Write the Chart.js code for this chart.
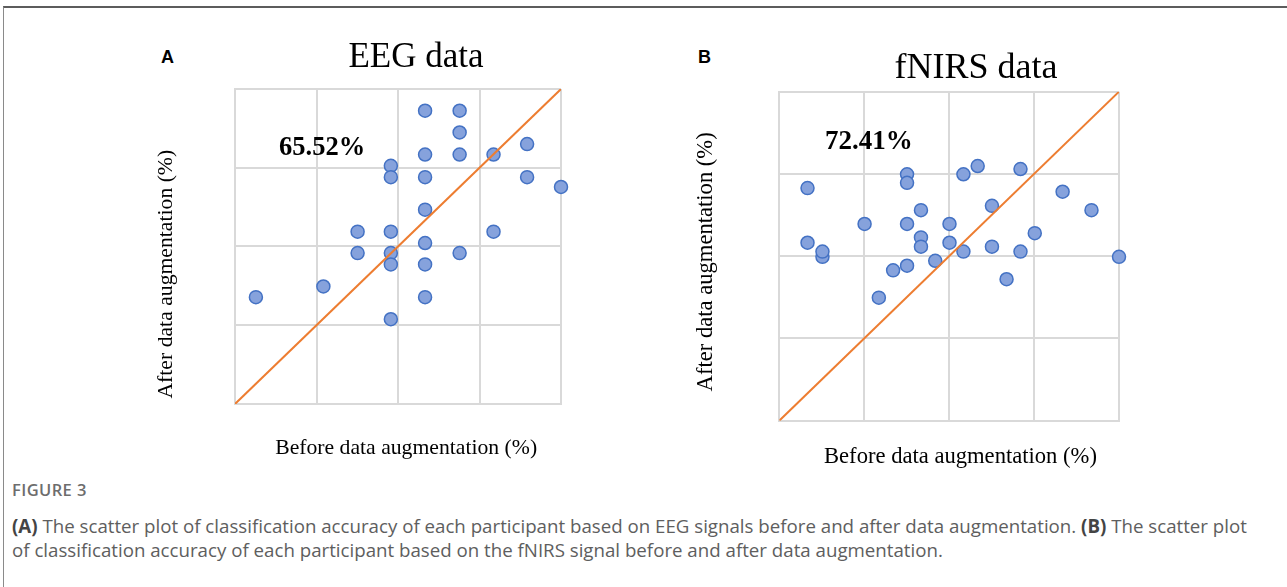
<!DOCTYPE html>
<html lang="en">
<head>
<meta charset="UTF-8">
<title>Figure 3 - accuracy before / after data augmentation</title>
<script src="https://cdn.jsdelivr.net/npm/chart.js@4.4.1/dist/chart.umd.min.js"></script>
<style>
  html, body { margin: 0; padding: 0; background: #fff; }
  body { width: 1287px; height: 587px; position: relative; overflow: hidden; }
  .frame { position: absolute; left: 3px; top: 6px; right: 0; bottom: -2px;
           border-top: 2px solid #5c5c5c; border-left: 1px solid #8a8a8a; }
  canvas { position: absolute; }
  .tag { position: absolute; font: bold 18px 'Liberation Sans', Arial, sans-serif;
         line-height: 1; color: #000; }
  .fig-no { position: absolute; left: 12px; top: 482px; font: 600 16.5px 'Open Sans', sans-serif;
            line-height: 1; color: #6d6d6d; letter-spacing: 0.4px; }
  .caption { position: absolute; left: 12px; top: 514px; font: 18.7px 'Open Sans', sans-serif;
             line-height: 24px; color: #5e5e5e; white-space: nowrap; }
  .caption b { color: #444; font-weight: 700; }
</style>
</head>
<body>
<div class="frame"></div>

<div class="tag" style="left:161px; top:48px">A</div>
<div class="tag" style="left:698px; top:48px">B</div>

<canvas id="eegChart" width="552" height="449" style="left:140px; top:20px"></canvas>
<canvas id="nirsChart" width="572" height="458" style="left:690px; top:20px"></canvas>

<div class="fig-no">FIGURE 3</div>
<div class="caption"><b>(A)</b> The scatter plot of classification accuracy of each participant based on EEG signals before and after data augmentation. <b>(B)</b> The scatter plot<br>of classification accuracy of each participant based on the fNIRS signal before and after data augmentation.</div>

<script>
// accuracy (%) per participant
const eegBefore = [6.4, 27.1, 37.6, 37.6, 47.8, 47.8, 47.8, 47.8, 47.8, 47.8, 58.3, 58.3, 58.3,
                   58.3, 58.3, 58.3, 58.3, 68.9, 68.9, 68.9, 68.9, 79.3, 79.3, 89.6, 89.6, 100];
const eegAfter  = [33.9, 37.3, 54.7, 47.9, 75.6, 72.0, 54.7, 47.9, 44.3, 26.9, 93.1, 79.2, 72.0,
                   61.7, 51.1, 44.3, 33.9, 93.1, 86.2, 79.2, 47.9, 79.2, 54.7, 82.5, 72.0, 68.9];

const nirsBefore = [8.3, 8.3, 12.7, 12.7, 25.1, 29.3, 33.5, 37.6, 37.6, 37.6, 37.6, 41.7, 41.7,
                    41.7, 45.9, 50.1, 50.1, 54.2, 54.2, 58.4, 62.6, 62.6, 66.9, 71.0, 71.0, 75.2,
                    83.4, 91.9, 100];
const nirsAfter  = [70.7, 54.1, 49.8, 51.4, 59.8, 37.4, 45.7, 74.9, 72.3, 59.8, 47.1, 64.0, 55.7,
                    52.9, 48.6, 59.8, 54.1, 74.9, 51.4, 77.4, 65.3, 52.9, 43.0, 76.5, 51.4, 57.0,
                    69.6, 64.0, 49.8];

const axisRange = [0, 100];
const gridStep = 25;
const eegImproved = '65.52%';
const nirsImproved = '72.41%';

const SERIF = "'Liberation Serif', 'Times New Roman', serif";
const GRID = '#d9d9d9';

// puts the "xx.xx%" label inside the plot, at a data position
const accuracyLabel = {
  id: 'accuracyLabel',
  afterDatasetsDraw(chart, args, opts) {
    const { ctx, scales: { x, y } } = chart;
    ctx.save();
    ctx.font = opts.font;
    ctx.fillStyle = '#000';
    ctx.textAlign = 'left';
    ctx.textBaseline = 'middle';
    ctx.fillText(opts.text, x.getPixelForValue(opts.x), y.getPixelForValue(opts.y));
    ctx.restore();
  }
};

function makePanel(id, p) {
  const points = p.before.map((b, i) => ({ x: b, y: p.after[i] }));
  return new Chart(document.getElementById(id), {
    data: {
      datasets: [
        {
          type: 'line',
          data: [{ x: axisRange[0], y: axisRange[0] }, { x: axisRange[1], y: axisRange[1] }],
          borderColor: '#ed7d31',
          borderWidth: 2,
          pointRadius: 0,
          order: 0
        },
        {
          type: 'scatter',
          data: points,
          backgroundColor: '#86a2dc',
          borderColor: '#4472c4',
          borderWidth: 1.5,
          pointRadius: p.radius,
          clip: false,
          order: 1
        }
      ]
    },
    options: {
      responsive: false,
      animation: false,
      events: [],
      layout: { padding: 0 },
      plugins: {
        legend: { display: false },
        tooltip: { enabled: false },
        title: {
          display: true,
          text: p.title,
          color: '#000',
          font: { family: SERIF, size: p.titleSize, weight: 'normal' },
          padding: p.titlePad
        },
        accuracyLabel: {
          text: p.label,
          x: p.labelAt[0],
          y: p.labelAt[1],
          font: 'bold ' + p.labelSize + 'px ' + SERIF
        }
      },
      scales: {
        x: {
          type: 'linear',
          min: axisRange[0], max: axisRange[1],
          ticks: { display: false, stepSize: gridStep },
          grid: { color: GRID, lineWidth: 2, drawTicks: false },
          border: { color: GRID, width: 2 },
          title: {
            display: true,
            // the leading spaces nudge the centred title right, as in the original
            text: p.xIndent + 'Before data augmentation (%)',
            color: '#000',
            font: { family: SERIF, size: p.axisSize },
            padding: p.xPad
          }
        },
        y: {
          type: 'linear',
          min: axisRange[0], max: axisRange[1],
          ticks: { display: false, stepSize: gridStep },
          grid: { color: GRID, lineWidth: 2, drawTicks: false },
          border: { color: GRID, width: 2 },
          title: {
            display: true,
            text: p.yText,
            align: p.yAlign,
            color: '#000',
            font: { family: SERIF, size: p.axisSize },
            padding: p.yPad
          }
        },
        // empty right axis, only keeps the title centred where the original has it
        spare: {
          type: 'linear',
          position: 'right',
          display: true,
          grid: { display: false },
          ticks: { display: false },
          border: { display: false },
          afterFit(s) { s.width = p.rightGap; }
        }
      }
    },
    plugins: [accuracyLabel]
  });
}

makePanel('eegChart', {
  before: eegBefore, after: eegAfter,
  title: 'EEG data', titleSize: 35, titlePad: { top: 17, bottom: 10 },
  axisSize: 21.7, xPad: { top: 31, bottom: 8 }, yPad: { top: 13.7, bottom: 55.3 },
  xIndent: '   ', yText: ' After data augmentation (%)',
  yAlign: 'start', rightGap: 131, radius: 6.5,
  label: eegImproved, labelAt: [13.5, 81.1], labelSize: 26.5
});

makePanel('nirsChart', {
  before: nirsBefore, after: nirsAfter,
  title: 'fNIRS data', titleSize: 36, titlePad: { top: 27.4, bottom: 1.1 },
  axisSize: 22.6, xPad: { top: 22.75, bottom: 7.45 }, yPad: { top: 2.75, bottom: 59.45 },
  xIndent: '    ', yText: 'After data augmentation (%)  ',
  yAlign: 'center', rightGap: 143, radius: 6.5,
  label: nirsImproved, labelAt: [13.45, 84.7], labelSize: 27
});
</script>
</body>
</html>
